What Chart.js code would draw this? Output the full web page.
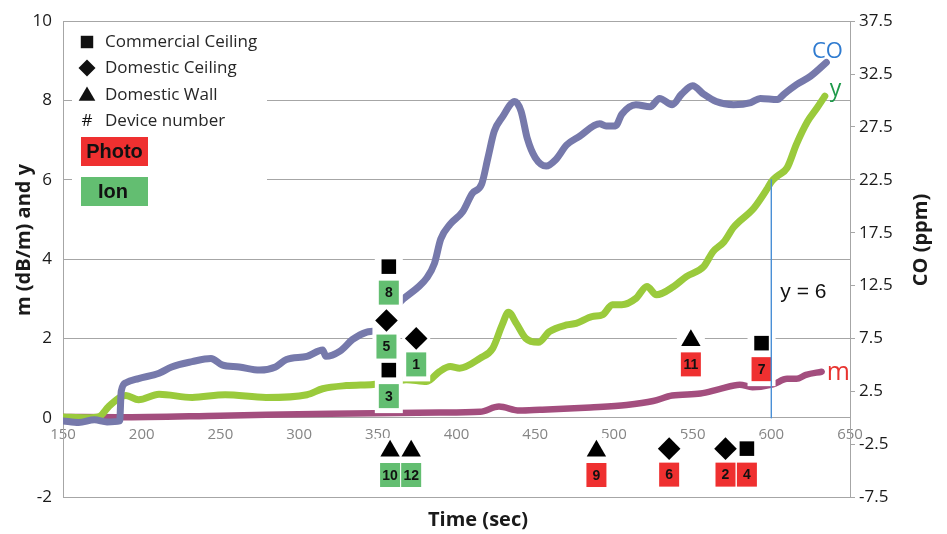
<!DOCTYPE html>
<html>
<head>
<meta charset="utf-8">
<title>CO, m and y versus time</title>
<script src="https://cdn.jsdelivr.net/npm/chart.js@4.4.1/dist/chart.umd.min.js"></script>
<style>
  html, body { margin: 0; padding: 0; background: #ffffff; }
  canvas { display: block; }
</style>
</head>
<body>
<canvas id="chart" width="947" height="534"></canvas>
<script>
// ---- Measured series ----
const coTime = [150,160,170,178,186,187,190,198,211,219,232,244,251,262,275,285,292,305,315,317,326,334,343,349,357,366,376,381,386,390,396,404,410,416,420,424,429,437,441,445,450,457,463,470,478,491,495,501,505,514,523,529,537,543,550,557,565,576,587,593,604,608,616,625,635];
const coPpm = [-0.3,-0.45,-0.2,-0.4,-0.3,2.5,3.3,3.7,4.2,4.8,5.3,5.6,5.0,4.8,4.5,4.8,5.5,5.8,6.4,5.8,6.3,7.4,8.1,8.3,9.8,11.2,12.4,13.2,14.6,16.9,18.3,19.5,21.2,22.1,24.6,27.1,28.4,29.9,29.0,26.4,24.6,23.8,24.4,25.8,26.6,27.8,27.6,27.6,28.7,29.6,29.4,30.2,29.6,30.6,31.4,30.6,29.9,29.6,29.8,30.2,30.1,30.6,31.5,32.3,33.6];

const yTime = [150,165,173,179,187,190,198,211,232,253,279,305,315,330,347,357,368,381,389,396,402,415,423,429,433,438,444,452,459,470,476,486,493,499,505,514,521,527,538,546,557,563,570,576,589,597,600,604,610,616,623,629,634];
const yValue = [0.02,0.0,0.03,0.28,0.53,0.56,0.45,0.59,0.51,0.58,0.51,0.58,0.73,0.81,0.84,0.88,0.96,0.91,1.16,1.29,1.25,1.50,1.75,2.34,2.66,2.38,2.00,1.90,2.17,2.34,2.38,2.55,2.60,2.85,2.85,3.01,3.31,3.10,3.31,3.56,3.81,4.19,4.44,4.80,5.29,5.75,5.95,6.10,6.30,6.90,7.47,7.81,8.11];

const mTime = [150,185,250,320,389,415,427,440,453,485,508,525,537,555,567,580,588,601,610,616,622,632];
const mValue = [0.02,0.01,0.05,0.10,0.13,0.15,0.28,0.18,0.20,0.26,0.32,0.42,0.56,0.61,0.72,0.83,0.77,0.84,0.98,0.98,1.08,1.16];

// ---- Axis ticks ----
const timeTicks = [150,200,250,300,350,400,450,500,550,600,650];
const leftTicks = [-2,0,2,4,6,8,10];
const rightTicks = [-7.5,-2.5,2.5,7.5,12.5,17.5,22.5,27.5,32.5,37.5];

// ---- Threshold y = 6 ----
const thresholdTime = 600;
const thresholdY = 6;

// ---- Alarm devices ----
const deviceNumber = [1,2,3,4,5,6,7,8,9,10,11,12];
const deviceMount = ['Domestic Ceiling','Domestic Ceiling','Commercial Ceiling','Commercial Ceiling','Domestic Ceiling','Domestic Ceiling','Commercial Ceiling','Commercial Ceiling','Domestic Wall','Domestic Wall','Domestic Wall','Domestic Wall'];
const deviceSensor = ['Ion','Photo','Ion','Photo','Ion','Photo','Photo','Ion','Photo','Ion','Photo','Ion'];
const alarmTime = [374.4,570.9,357,584.5,355.5,535.1,593.8,357,488.9,357.8,548.9,371.2];
const markerY = [2.0,-0.78,1.2,-0.78,2.45,-0.78,1.88,3.81,-0.84,-0.84,1.95,-0.84];

const mountNames = ['Commercial Ceiling','Domestic Ceiling','Domestic Wall'];

// ---- Styles ----
const shapeOf = {'Commercial Ceiling': 'rect', 'Domestic Ceiling': 'rectRot', 'Domestic Wall': 'triangle'};
const shapeRadius = {rect: 10.3, rectRot: 11.3, triangle: 11.2};
const boxGap = {rect: 26, rectRot: 26, triangle: 24};
const sensorFill = {Photo: '#EF3030', Ion: '#63BE71'};
const BODY = '"Open Sans", "Noto Sans", sans-serif';
const ARIAL = '"Liberation Sans", Arial, sans-serif';
const GRID = '#A6A6A6';

function drawShape(ctx, style, x, y, r) {
  ctx.beginPath();
  if (style === 'rect') {
    const s = Math.SQRT1_2 * r;
    ctx.rect(x - s, y - s, 2 * s, 2 * s);
  } else if (style === 'rectRot') {
    ctx.moveTo(x - r, y); ctx.lineTo(x, y - r); ctx.lineTo(x + r, y); ctx.lineTo(x, y + r);
    ctx.closePath();
  } else {
    let a = 0;
    ctx.moveTo(x + Math.sin(a) * r, y - Math.cos(a) * r);
    a += 2 * Math.PI / 3; ctx.lineTo(x + Math.sin(a) * r, y - Math.cos(a) * r);
    a += 2 * Math.PI / 3; ctx.lineTo(x + Math.sin(a) * r, y - Math.cos(a) * r);
    ctx.closePath();
  }
  ctx.fill();
}

const decorations = {
  id: 'decorations',
  beforeDatasetDraw(chart, args) {
    if (chart.data.datasets[args.index].label !== 'alarms') return;
    const {ctx, scales: {x, y}} = chart;
    ctx.save();
    const items = deviceNumber.map((n, i) => {
      const shape = shapeOf[deviceMount[i]];
      return {n, shape, px: x.getPixelForValue(alarmTime[i]), py: y.getPixelForValue(markerY[i]), fill: sensorFill[deviceSensor[i]]};
    });
    // white backing behind each symbol + number tag
    ctx.fillStyle = '#ffffff';
    items.forEach(it => {
      ctx.fillRect(it.px - 14, it.py - 13, 28, boxGap[it.shape] + 13 + 17);
    });
    // coloured number tags
    items.forEach(it => {
      const cy = it.py + boxGap[it.shape];
      ctx.fillStyle = it.fill;
      ctx.fillRect(it.px - 10, cy - 12, 20, 24);
      ctx.fillStyle = '#111111';
      ctx.font = 'bold 14px ' + ARIAL;
      ctx.textAlign = 'center';
      ctx.textBaseline = 'middle';
      ctx.fillText(String(it.n), it.px, cy + 1);
    });
    ctx.restore();
  },
  afterDraw(chart) {
    const {ctx, scales: {x, y, y1}} = chart;
    ctx.save();

    // legend panel
    ctx.fillStyle = '#ffffff';
    ctx.fillRect(72, 24, 195, 190);
    const rows = [42, 68, 95];
    ctx.fillStyle = '#111111';
    drawShape(ctx, 'rect', 87, rows[0], 8.8);
    drawShape(ctx, 'rectRot', 87, rows[1], 8.5);
    drawShape(ctx, 'triangle', 87, rows[2] + 1, 9.6);
    ctx.font = '17px ' + BODY;
    ctx.textAlign = 'center';
    ctx.textBaseline = 'middle';
    ctx.fillText('#', 87, 121);
    ctx.textAlign = 'left';
    ctx.fillStyle = '#262626';
    mountNames.forEach((name, i) => ctx.fillText(name, 105, rows[i]));
    ctx.fillText('Device number', 105, 121);

    ctx.fillStyle = sensorFill.Photo;
    ctx.fillRect(81, 137, 67, 29);
    ctx.fillStyle = sensorFill.Ion;
    ctx.fillRect(81, 177, 67, 29);
    ctx.fillStyle = '#111111';
    ctx.font = 'bold 20px ' + ARIAL;
    ctx.textAlign = 'center';
    ctx.fillText('Photo', 114.5, 152);
    ctx.fillText('Ion', 113, 192);

    // axis titles
    ctx.font = 'bold 20px ' + BODY;
    ctx.fillStyle = '#1a1a1a';
    ctx.textAlign = 'center';
    ctx.textBaseline = 'middle';
    ctx.fillText('Time (sec)', 478, 520);
    ctx.save();
    ctx.translate(24, 240);
    ctx.rotate(-Math.PI / 2);
    ctx.fillText('m (dB/m) and y', 0, 0);
    ctx.restore();
    ctx.save();
    ctx.translate(921, 240);
    ctx.rotate(-Math.PI / 2);
    ctx.fillText('CO (ppm)', 0, 0);
    ctx.restore();

    // series end labels
    ctx.textBaseline = 'alphabetic';
    const coX = x.getPixelForValue(coTime[coTime.length - 1]);
    const coY = y1.getPixelForValue(coPpm[coPpm.length - 1]);
    ctx.font = '22px ' + BODY;
    ctx.fillStyle = '#2F7BD0';
    ctx.textAlign = 'center';
    ctx.fillText('CO', coX + 1, coY - 4);

    const yx = x.getPixelForValue(yTime[yTime.length - 1]);
    const yy = y.getPixelForValue(yValue[yValue.length - 1]);
    ctx.fillStyle = '#1E9A4A';
    ctx.textAlign = 'left';
    ctx.font = '23px ' + BODY;
    ctx.fillText('y', yx + 5, yy);

    const mx = x.getPixelForValue(mTime[mTime.length - 1]);
    const my = y.getPixelForValue(mValue[mValue.length - 1]);
    ctx.fillStyle = '#E8332F';
    ctx.font = '25px ' + BODY;
    ctx.fillText('m', mx + 5, my + 8);

    // threshold label
    const tx = x.getPixelForValue(thresholdTime);
    const ty = y.getPixelForValue(thresholdY);
    ctx.fillStyle = '#111111';
    ctx.font = '21px ' + ARIAL;
    ctx.fillText('y = ' + thresholdY, tx + 9, ty + 118);

    ctx.restore();
  }
};

new Chart(document.getElementById('chart'), {
  type: 'line',
  data: {
    datasets: [
      {
        label: 'threshold',
        data: [{x: thresholdTime, y: 0}, {x: thresholdTime, y: thresholdY}],
        yAxisID: 'y',
        borderColor: '#4A8FD6',
        borderWidth: 1.4,
        tension: 0,
        cubicInterpolationMode: 'default',
        pointRadius: 0,
        order: 0
      },
      {
        label: 'alarms',
        type: 'scatter',
        data: alarmTime.map((t, i) => ({x: t, y: markerY[i]})),
        yAxisID: 'y',
        pointStyle: deviceMount.map(m => shapeOf[m]),
        pointRadius: deviceMount.map(m => shapeRadius[shapeOf[m]]),
        pointBackgroundColor: '#000000',
        pointBorderWidth: 0,
        backgroundColor: '#000000',
        borderWidth: 0,
        clip: false,
        order: 1
      },
      {
        label: 'CO',
        data: coTime.map((t, i) => ({x: t, y: coPpm[i]})),
        yAxisID: 'y1',
        borderColor: '#7679AB',
        borderWidth: 7,
        order: 2
      },
      {
        label: 'y',
        data: yTime.map((t, i) => ({x: t, y: yValue[i]})),
        yAxisID: 'y',
        borderColor: '#9ACA3C',
        borderWidth: 7,
        order: 3
      },
      {
        label: 'm',
        data: mTime.map((t, i) => ({x: t, y: mValue[i]})),
        yAxisID: 'y',
        borderColor: '#A34E7E',
        borderWidth: 6.5,
        order: 4
      }
    ]
  },
  options: {
    responsive: false,
    animation: false,
    devicePixelRatio: 1,
    layout: {padding: {top: 20, bottom: 37, left: 0, right: 0}},
    plugins: {legend: {display: false}, tooltip: {enabled: false}},
    elements: {
      line: {cubicInterpolationMode: 'monotone', borderJoinStyle: 'round', borderCapStyle: 'round', fill: false},
      point: {radius: 0}
    },
    scales: {
      x: {
        type: 'linear',
        position: {y: 0},
        min: 150,
        max: 650,
        afterBuildTicks: s => { s.ticks = timeTicks.map(v => ({value: v})); },
        grid: {display: false, drawTicks: false},
        border: {display: true, color: GRID, width: 1},
        ticks: {padding: 8, color: '#858585', font: {family: BODY, size: 15}, maxRotation: 0, autoSkip: false}
      },
      y: {
        position: 'left',
        min: -2,
        max: 10,
        afterBuildTicks: s => { s.ticks = leftTicks.map(v => ({value: v})); },
        afterFit: s => { s.width = 63; },
        grid: {color: GRID, lineWidth: 1, drawTicks: false},
        border: {display: true, color: GRID, width: 1},
        ticks: {padding: 11, color: '#1a1a1a', font: {family: BODY, size: 17}}
      },
      y1: {
        position: 'right',
        min: -7.5,
        max: 37.5,
        afterBuildTicks: s => { s.ticks = rightTicks.map(v => ({value: v})); },
        afterFit: s => { s.width = 97; },
        grid: {drawOnChartArea: false, color: GRID, tickLength: 5},
        border: {display: true, color: GRID, width: 1},
        ticks: {padding: 4, color: '#1a1a1a', font: {family: BODY, size: 17}}
      }
    }
  },
  plugins: [decorations]
});
</script>
</body>
</html>
